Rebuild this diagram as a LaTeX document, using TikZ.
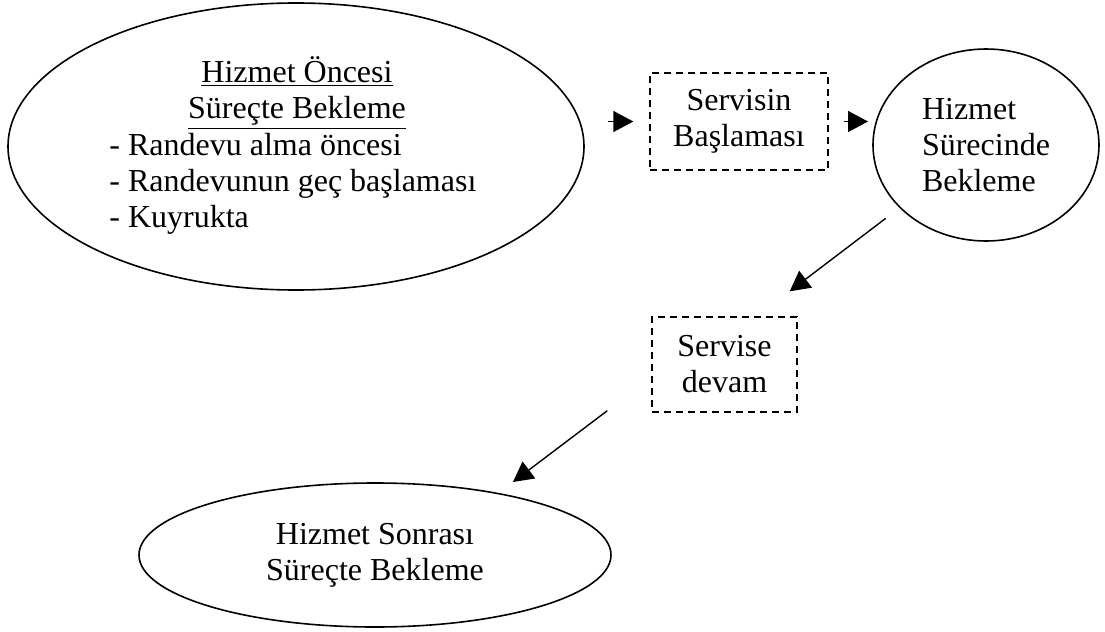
\documentclass[tikz,border=0pt]{standalone}
\usepackage{fontspec}
\setmainfont{Liberation Serif}
\usetikzlibrary{shapes.geometric,arrows.meta}
\tikzset{
	wait/.style={ellipse, draw, line width=0.8pt, inner sep=0pt, outer sep=0pt},
	serv/.style={rectangle, draw, dash pattern=on 3.5pt off 2.5pt, line width=0.7pt, inner sep=0pt, align=center},
	txt/.style={inner sep=0pt, font=\fontsize{16}{18}\selectfont},
	arr/.style={-{Triangle[length=10pt,width=10.5pt]}, line width=0.7pt}
}

\begin{document}
\begin{tikzpicture}[x=0.5pt, y=-0.5pt]
		%%%%% START %%%%%
		\useasboundingbox (0, 0) rectangle (1105, 632);
		
		\node[wait, minimum width=288pt, minimum height=143.5pt] (pre) at (296, 146.5) {};
		\node[txt, align=center] (preTitle) at (297, 93) {\underline{Hizmet Öncesi}\\\underline{Süreçte Bekleme}};
		\node[txt, align=left, anchor=west] (preList) at (109, 184) {- Randevu alma öncesi\\- Randevunun geç başlaması\\- Kuyrukta};
		
		\node[serv, txt, minimum width=89pt, minimum height=48.5pt] (basla) at (739, 121.5) {Servisin\\Başlaması};
		\node[wait, txt, align=left, minimum width=113pt, minimum height=96pt] (surec) at (986, 145) {Hizmet\\Sürecinde\\Bekleme};
		
		\node[serv, txt, minimum width=72.5pt, minimum height=47.5pt] (devam) at (724.5, 364.5) {Servise\\devam};
		\node[wait, txt, align=center, minimum width=236pt, minimum height=72pt] (post) at (375, 555) {Hizmet Sonrası\\Süreçte Bekleme};
		
		\draw[arr, shorten <=12pt, shorten >=8pt] (pre.east |- basla.west) -- (basla.west);
		\draw[arr, shorten <=7.5pt, shorten >=2.5pt] (basla.east) -- (basla.east -| surec.west);
		\draw[arr, shorten <=9pt] (surec.216) -- ([xshift=-4pt, yshift=12.5pt]devam.north east);
		\draw[arr] ([xshift=-22pt, yshift=1pt]devam.south west) -- ([xshift=69pt, yshift=0.5pt]post.north);
		
		%%%%% END %%%%%
\end{tikzpicture}
\end{document}
